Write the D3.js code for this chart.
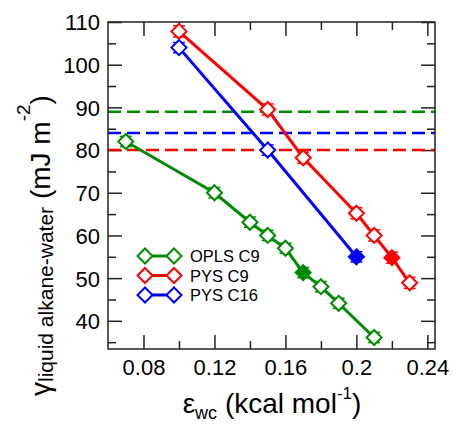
<!DOCTYPE html>
<html>
<head>
<meta charset="utf-8">
<script src="https://cdn.jsdelivr.net/npm/d3@7"></script>
<style>
  html, body { margin: 0; padding: 0; background: #fff; }
  svg { display: block; font-family: "Liberation Sans", Arial, Helvetica, sans-serif; }
</style>
</head>
<body>
<svg id="chart" width="453" height="425"></svg>
<script>
// ---- data ----
const xTickValues = [0.08, 0.12, 0.16, 0.2, 0.24];
const xTickLabels = ["0.08", "0.12", "0.16", "0.2", "0.24"];
const yTickValues = [40, 50, 60, 70, 80, 90, 100, 110];
const yTickLabels = ["40", "50", "60", "70", "80", "90", "100", "110"];

const seriesNames = ["OPLS C9", "PYS C9", "PYS C16"];
const seriesColors = ["#008b00", "#ff0000", "#0000ff"];

const oplsX = [0.07, 0.12, 0.14, 0.15, 0.16, 0.17, 0.18, 0.19, 0.21];
const oplsY = [82.0, 70.0, 63.1, 60.0, 57.0, 51.3, 48.0, 44.1, 36.1];
const oplsErr = [1.2, 1.2, 1.2, 1.2, 1.2, 1.2, 1.2, 1.2, 1.2];
const oplsFilled = [false, false, false, false, false, true, false, false, false];

const pysC9X = [0.10, 0.15, 0.17, 0.20, 0.21, 0.22, 0.23];
const pysC9Y = [107.8, 89.5, 78.2, 65.2, 60.0, 54.8, 48.9];
const pysC9Err = [1.3, 1.3, 1.3, 1.3, 1.3, 1.3, 1.3];
const pysC9Filled = [false, false, false, false, false, true, false];

const pysC16X = [0.10, 0.15, 0.20];
const pysC16Y = [104.0, 80.0, 55.0];
const pysC16Err = [1.2, 1.2, 1.2];
const pysC16Filled = [false, false, true];

// reference (dashed) levels
const refLevels = [89.0, 84.0, 80.0];
const refColors = ["#008b00", "#0000ff", "#ff0000"];

// ---- layout ----
const svg = d3.select("#chart");
const L = 108, R = 435, T = 22, B = 349;
const x = d3.scaleLinear().domain([0.06, 0.2443]).range([L, R]);
const y = d3.scaleLinear().domain([33.4, 110]).range([B, T]);

const series = [
  { name: seriesNames[0], color: seriesColors[0], xs: oplsX, ys: oplsY, err: oplsErr, filled: oplsFilled },
  { name: seriesNames[1], color: seriesColors[1], xs: pysC9X, ys: pysC9Y, err: pysC9Err, filled: pysC9Filled },
  { name: seriesNames[2], color: seriesColors[2], xs: pysC16X, ys: pysC16Y, err: pysC16Err, filled: pysC16Filled }
];

const axisColor = "#222";
const MAJ = 14, MIN = 8;

const xMajor = xTickValues;
const xMinor = [0.10, 0.14, 0.18, 0.22];
const yMajor = yTickValues;
const yMinor = [35, 45, 55, 65, 75, 85, 95, 105];

// bottom axis
const axB = d3.axisBottom(x).tickValues(xMajor).tickSize(-MAJ).tickPadding(10)
  .tickFormat((d, i) => xTickLabels[i]);
const gB = svg.append("g").attr("transform", `translate(0,${B})`).call(axB);
svg.append("g").attr("transform", `translate(0,${B})`)
  .call(d3.axisBottom(x).tickValues(xMinor).tickSize(-MIN).tickFormat(""));
// top
svg.append("g").attr("transform", `translate(0,${T})`)
  .call(d3.axisTop(x).tickValues(xMajor).tickSize(-MAJ).tickFormat(""));
svg.append("g").attr("transform", `translate(0,${T})`)
  .call(d3.axisTop(x).tickValues(xMinor).tickSize(-MIN).tickFormat(""));
// left
const axL = d3.axisLeft(y).tickValues(yMajor).tickSize(-MAJ).tickPadding(8)
  .tickFormat((d, i) => yTickLabels[i]);
const gL = svg.append("g").attr("transform", `translate(${L},0)`).call(axL);
svg.append("g").attr("transform", `translate(${L},0)`)
  .call(d3.axisLeft(y).tickValues(yMinor).tickSize(-MIN).tickFormat(""));
// right
svg.append("g").attr("transform", `translate(${R},0)`)
  .call(d3.axisRight(y).tickValues(yMajor).tickSize(-MAJ).tickFormat(""));
svg.append("g").attr("transform", `translate(${R},0)`)
  .call(d3.axisRight(y).tickValues(yMinor).tickSize(-MIN).tickFormat(""));

svg.selectAll(".domain").remove();
svg.selectAll(".tick line").attr("stroke", axisColor).attr("stroke-width", 1.5);
svg.selectAll(".tick text").attr("fill", "#000").attr("font-size", 22)
  .attr("font-family", "'Liberation Sans', Arial, sans-serif");
gB.selectAll(".tick text").attr("dy", "0.72em");
gL.selectAll(".tick text").attr("dy", "0.36em");

// dashed reference lines
svg.append("g").selectAll("line").data(refLevels).join("line")
  .attr("x1", L).attr("x2", R)
  .attr("y1", d => y(d)).attr("y2", d => y(d))
  .attr("stroke", (d, i) => refColors[i])
  .attr("stroke-width", 2.5)
  .attr("stroke-dasharray", "13,6");

// series
const line = d3.line().x(d => x(d[0])).y(d => y(d[1]));
const H = 7.5; // half diagonal
function diamondPath(cx, cy) {
  return `M${cx},${cy - H}L${cx + H},${cy}L${cx},${cy + H}L${cx - H},${cy}Z`;
}

series.forEach(s => {
  const pts = s.xs.map((v, i) => [v, s.ys[i], s.err[i], s.filled[i]]);
  const gs = svg.append("g");
  gs.append("path").datum(pts).attr("d", line)
    .attr("fill", "none").attr("stroke", s.color).attr("stroke-width", 3);
  pts.forEach(p => {
    const cx = x(p[0]);
    const y1 = y(p[1] + p[2]), y2 = y(p[1] - p[2]);
    gs.append("line").attr("x1", cx).attr("x2", cx).attr("y1", y1).attr("y2", y2)
      .attr("stroke", s.color).attr("stroke-width", 1.5);
    [y1, y2].forEach(yy => gs.append("line")
      .attr("x1", cx - 6).attr("x2", cx + 6).attr("y1", yy).attr("y2", yy)
      .attr("stroke", s.color).attr("stroke-width", 1.5));
  });
  gs.selectAll("path.mk").data(pts).join("path").attr("class", "mk")
    .attr("d", p => diamondPath(x(p[0]), y(p[1])))
    .attr("fill", p => p[3] ? s.color : "#fff")
    .attr("stroke", s.color).attr("stroke-width", 2);
});

// frame
svg.append("rect").attr("x", L).attr("y", T).attr("width", R - L).attr("height", B - T)
  .attr("fill", "none").attr("stroke", axisColor).attr("stroke-width", 1.5);

// legend
const legRows = [256, 275.5, 295];
const lg = svg.append("g");
series.forEach((s, i) => {
  const yy = legRows[i];
  lg.append("line").attr("x1", 145).attr("x2", 174).attr("y1", yy).attr("y2", yy)
    .attr("stroke", s.color).attr("stroke-width", 3);
  [145, 174].forEach(cx => lg.append("path").attr("d", diamondPath(cx, yy))
    .attr("fill", "#fff").attr("stroke", s.color).attr("stroke-width", 2));
  lg.append("text").attr("x", 190).attr("y", yy + 6).attr("font-size", 16.5)
    .attr("fill", "#000").text(s.name);
});

// y label
const yl = svg.append("text")
  .attr("transform", "translate(50,396) rotate(-90)")
  .attr("font-size", 28).attr("fill", "#000");
yl.append("tspan").text("γ");
yl.append("tspan").attr("font-size", 21).attr("dy", 3).text("liquid alkane-water");
yl.append("tspan").attr("dy", -3).text(" (mJ m");
yl.append("tspan").attr("font-size", 19).attr("dy", -20).text("-2");
yl.append("tspan").attr("dy", 20).text(")");

// x label
const xl = svg.append("text").attr("x", 272).attr("y", 413)
  .attr("text-anchor", "middle").attr("font-size", 28).attr("fill", "#000");
xl.append("tspan").text("ε");
xl.append("tspan").attr("font-size", 18).attr("dy", 6).text("wc");
xl.append("tspan").attr("dy", -6).text(" (kcal mol");
xl.append("tspan").attr("font-size", 17).attr("dy", -14).text("-1");
xl.append("tspan").attr("dy", 14).text(")");
</script>
</body>
</html>
